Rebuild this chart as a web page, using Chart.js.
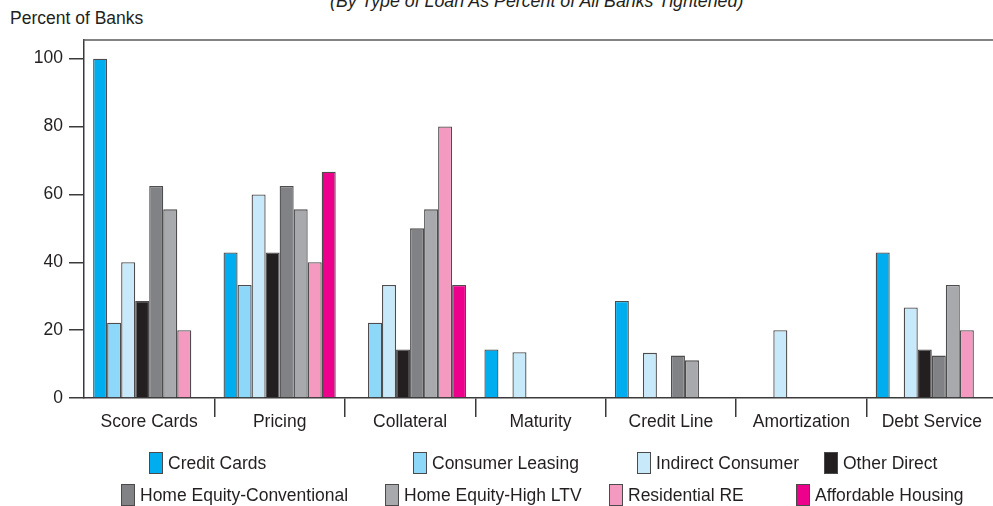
<!DOCTYPE html>
<html>
<head>
<meta charset="utf-8">
<script src="https://cdn.jsdelivr.net/npm/chart.js@4.4.1/dist/chart.umd.min.js"></script>
<style>
  html, body { margin: 0; padding: 0; background: #fff; overflow: hidden; }
  body { width: 993px; height: 506px; position: relative; font-family: 'Liberation Sans', Arial, sans-serif; color: #231f20; }
  #wrap { position: absolute; left: 0; top: 0; width: 997px; height: 506px; }
  .subtitle { position: absolute; left: 330px; top: -7px; font-size: 17.8px; font-style: italic; line-height: 16px; white-space: nowrap; }
  .ylabel { position: absolute; left: 10px; top: 8px; font-size: 17.5px; line-height: 20px; white-space: nowrap; }
  #legend { position: absolute; left: 0; top: 447px; font-size: 17.5px; }
  .lrow { display: flex; height: 32px; align-items: center; }
  .lrow.first { padding-left: 149px; }
  .lrow.second { padding-left: 121px; }
  .litem { display: flex; align-items: center; white-space: nowrap; }
  .litem:nth-child(1) { width: 264px; }
  .litem:nth-child(2) { width: 224px; }
  .litem:nth-child(3) { width: 187px; }
  .lbox { width: 12px; height: 20px; border: 1.5px solid #4a4a4a; margin-right: 5px; }
</style>
</head>
<body>
<div class="subtitle">(By Type of Loan As Percent of All Banks Tightened)</div>
<div class="ylabel">Percent of Banks</div>
<div id="wrap"><canvas id="chart" width="997" height="506"></canvas></div>
<div id="legend"></div>
<script>
const categories = ['Score Cards', 'Pricing', 'Collateral', 'Maturity', 'Credit Line', 'Amortization', 'Debt Service'];
const yTicks = [0, 20, 40, 60, 80, 100];

// percent of banks tightening, per loan type (null = no bar)
const creditCards        = [100,  42.9, null, 14.3, 28.6, null, 42.9];
const consumerLeasing    = [22.2, 33.3, 22.2, null, null, null, null];
const indirectConsumer   = [40,   60,   33.3, 13.5, 13.3, 20,   26.7];
const otherDirect        = [28.6, 42.9, 14.3, null, null, null, 14.3];
const homeEquityConv     = [62.5, 62.5, 50,   null, 12.5, null, 12.5];
const homeEquityHighLtv  = [55.6, 55.6, 55.6, null, 11.1, null, 33.3];
const residentialRe      = [20,   40,   80,   null, null, null, 20];
const affordableHousing  = [null, 66.7, 33.3, null, null, null, null];

const seriesNames = ['Credit Cards', 'Consumer Leasing', 'Indirect Consumer', 'Other Direct',
  'Home Equity-Conventional', 'Home Equity-High LTV', 'Residential RE', 'Affordable Housing'];
const seriesValues = [creditCards, consumerLeasing, indirectConsumer, otherDirect,
  homeEquityConv, homeEquityHighLtv, residentialRe, affordableHousing];
const seriesColors = ['#00aeef', '#8dd8f8', '#c8e9f9', '#231f20', '#808285', '#a7a9ac', '#f49ac1', '#ec008c'];

const ink = '#231f20';
Chart.defaults.font.family = "'Liberation Sans', Arial, sans-serif";
Chart.defaults.font.size = 17.5;
Chart.defaults.color = ink;

// top rule of the plot frame
const frameTop = {
  id: 'frameTop',
  afterDraw(chart) {
    const { ctx, chartArea } = chart;
    ctx.save();
    ctx.strokeStyle = '#5a5a5a';
    ctx.lineWidth = 1.5;
    ctx.beginPath();
    ctx.moveTo(chartArea.left - 0.75, chartArea.top);
    ctx.lineTo(chart.width, chartArea.top);
    ctx.stroke();
    ctx.restore();
  }
};

const chart = new Chart(document.getElementById('chart'), {
  type: 'bar',
  data: {
    labels: categories,
    datasets: seriesNames.map((name, i) => ({
      label: name,
      data: seriesValues[i],
      backgroundColor: seriesColors[i],
      borderColor: 'rgba(35,31,32,0.8)',
      borderWidth: 1.3,
      borderSkipped: 'start',
      categoryPercentage: 0.86,
      barPercentage: 1.0,
    }))
  },
  options: {
    responsive: false,
    animation: false,
    layout: { padding: { top: 40, bottom: 68, left: 0, right: 0 } },
    plugins: {
      legend: { display: false },
      tooltip: { enabled: false },
    },
    scales: {
      x: {
        afterFit: s => { s.height = 40; },
        border: { color: '#3a3a3a', width: 1.5 },
        grid: {
          offset: true,
          drawOnChartArea: false,
          tickLength: 19,
          lineWidth: 1.5,
          color: c => (c.index === 0 || c.index === categories.length) ? 'rgba(0,0,0,0)' : '#3a3a3a',
        },
        ticks: { padding: -5, maxRotation: 0, autoSkip: false },
      },
      y: {
        min: 0,
        max: 105.5,
        afterFit: s => { s.width = 84; },
        afterBuildTicks: s => { s.ticks = yTicks.map(v => ({ value: v })); },
        border: { color: '#3a3a3a', width: 1.5 },
        grid: { drawOnChartArea: false, tickLength: 15, lineWidth: 1.5, color: '#3a3a3a' },
        ticks: { padding: 6 },
      }
    }
  },
  plugins: [frameTop]
});

// legend laid out in two rows of four
const legend = document.getElementById('legend');
[0, 4].forEach((start, r) => {
  const row = document.createElement('div');
  row.className = 'lrow ' + (r === 0 ? 'first' : 'second');
  chart.data.datasets.slice(start, start + 4).forEach(ds => {
    const item = document.createElement('div');
    item.className = 'litem';
    const box = document.createElement('span');
    box.className = 'lbox';
    box.style.background = ds.backgroundColor;
    const txt = document.createElement('span');
    txt.textContent = ds.label;
    item.appendChild(box);
    item.appendChild(txt);
    row.appendChild(item);
  });
  legend.appendChild(row);
});
</script>
</body>
</html>
